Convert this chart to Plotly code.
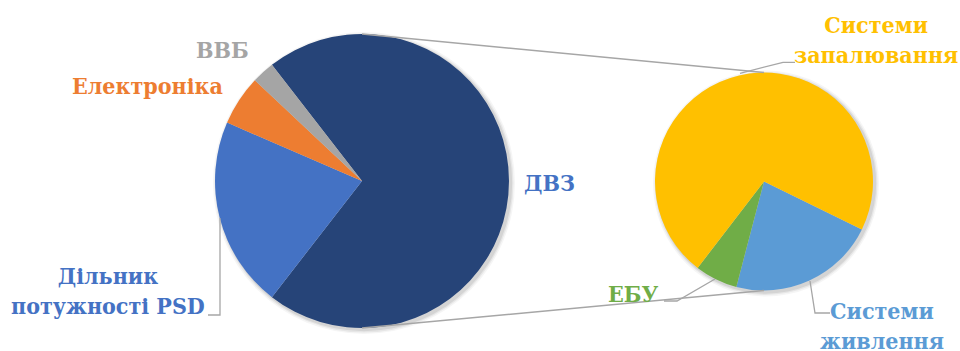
import plotly.graph_objects as go

# ---- data ----
main_labels = ["ДВЗ", "Дільник потужності PSD", "Електроніка", "ВВБ"]
main_values = [71, 21, 5.5, 2.5]
main_colors = ["#264478", "#4472C4", "#ED7D31", "#A5A5A5"]

sub_labels = ["Системи живлення", "ЕБУ", "Системи запалювання"]
sub_values = [15.5, 4.5, 51]
sub_colors = ["#5B9BD5", "#70AD47", "#FFC000"]

W, H = 960, 351

# geometry (pixels)
C1 = (362, 181); R1 = 147
C2 = (764, 181.5); R2 = 109


def px(x):
    return x / W


def py(y):
    return 1 - y / H


def dom(c, r):
    return dict(x=[px(c[0] - r), px(c[0] + r)], y=[py(c[1] + r), py(c[1] - r)])


total_main = sum(main_values)
rot_main = 90 - 180 * main_values[0] / total_main

fig = go.Figure()

# soft shadows
for c, r in [(C1, R1), (C2, R2)]:
    for k, op in [(4, 0.04), (2.5, 0.06), (1.2, 0.08)]:
        fig.add_shape(type="circle", xref="paper", yref="paper",
                      x0=px(c[0] - r - k + 2), x1=px(c[0] + r + k + 2),
                      y0=py(c[1] + r + k + 2), y1=py(c[1] - r - k + 2),
                      fillcolor=f"rgba(0,0,0,{op})", line=dict(width=0), layer="below")

fig.add_trace(go.Pie(labels=main_labels, values=main_values, sort=False,
                     direction="clockwise", rotation=rot_main,
                     marker=dict(colors=main_colors, line=dict(width=0)),
                     textinfo="none", domain=dom(C1, R1), hole=0))
fig.add_trace(go.Pie(labels=sub_labels, values=sub_values, sort=False,
                     direction="clockwise", rotation=116.1,
                     marker=dict(colors=sub_colors, line=dict(width=0)),
                     textinfo="none", domain=dom(C2, R2), hole=0))

line_col = "#A6A6A6"
fig.add_shape(type="line", xref="paper", yref="paper",
              x0=px(C1[0]), y0=py(C1[1] - R1), x1=px(C2[0]), y1=py(C2[1] - R2),
              line=dict(color=line_col, width=1.5))
fig.add_shape(type="line", xref="paper", yref="paper",
              x0=px(C1[0]), y0=py(C1[1] + R1), x1=px(C2[0]), y1=py(C2[1] + R2),
              line=dict(color=line_col, width=1.5))

leaders = [
    [(220, 218), (220, 315), (208, 315)],
    [(740, 73.3), (783, 62.3), (795, 62.3)],
    [(715, 279), (677, 301), (664, 301)],
    [(810, 281), (815, 313), (830, 313)],
]
for pts in leaders:
    path = "M " + " L ".join(f"{px(a)},{py(b)}" for a, b in pts)
    fig.add_shape(type="path", xref="paper", yref="paper", path=path,
                  line=dict(color=line_col, width=1.3))

FONT = "DejaVu Serif Condensed, DejaVu Serif"
labels = [
    ("ВВБ", 222, 49, "#A5A5A5"),
    ("Електроніка", 147, 86, "#ED7D31"),
    ("ДВЗ", 549, 182, "#4472C4"),
    ("Дільник<br>потужності PSD", 108, 290, "#4472C4"),
    ("Системи<br>запалювання", 876, 39, "#FFC000"),
    ("ЕБУ", 632.5, 293, "#70AD47"),
    ("Системи<br>живлення", 882, 325, "#5B9BD5"),
]
for t, x, y, col in labels:
    fig.add_annotation(text="<b>" + t.replace("<br>", "</b><br><b>") + "</b>",
                       x=px(x), y=py(y), xref="paper", yref="paper",
                       xanchor="center", yanchor="middle", showarrow=False,
                       font=dict(family=FONT, size=23, color=col))

fig.update_layout(width=W, height=H, margin=dict(l=0, r=0, t=0, b=0),
                  showlegend=False, paper_bgcolor="white", plot_bgcolor="white")

fig.write_html("out.html")
